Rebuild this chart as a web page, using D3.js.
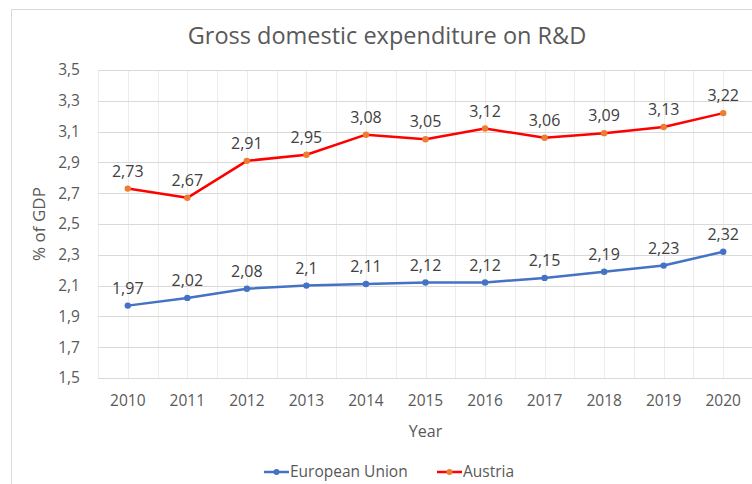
<!DOCTYPE html>
<html><head><meta charset="utf-8">
<script src="https://cdn.jsdelivr.net/npm/d3@7"></script>
<style>body{margin:0;background:#fff}svg{display:block;font-family:"Open Sans",sans-serif}</style>
</head><body>
<svg id="c" width="752" height="484"></svg>
<script>
const years = [2010,2011,2012,2013,2014,2015,2016,2017,2018,2019,2020];
const euValues = [1.97,2.02,2.08,2.10,2.11,2.12,2.12,2.15,2.19,2.23,2.32];
const atValues = [2.73,2.67,2.91,2.95,3.08,3.05,3.12,3.06,3.09,3.13,3.22];
const yTicks = [1.5,1.7,1.9,2.1,2.3,2.5,2.7,2.9,3.1,3.3,3.5];
const seriesNames = ["European Union","Austria"];

(function(){
const svg = d3.select("#c");
const fmt = v => String(+v.toFixed(2)).replace(".", ",");
const pL = 98, pR = 753, pT = 70, pB = 378;
const x = d3.scaleBand().domain(years).range([pL, pR]);
const y = d3.scaleLinear().domain([1.5, 3.5]).range([pB, pT]);
const cx = d => x(d) + x.bandwidth()/2;

// frame
svg.append("path").attr("d", `M11.5,${484}V9.5H752`).attr("fill","none").attr("stroke","#d9d9d9");

// vertical grid (every half category)
const vlines = [];
years.forEach(yr => { vlines.push(x(yr)); vlines.push(cx(yr)); });
svg.append("g").selectAll("line").data(vlines).join("line")
  .attr("x1", d => Math.round(d)+0.5).attr("x2", d => Math.round(d)+0.5)
  .attr("y1", pT).attr("y2", pB).attr("stroke", "#ececec");
// horizontal grid
svg.append("g").selectAll("line").data(yTicks).join("line")
  .attr("x1", pL).attr("x2", pR)
  .attr("y1", d => Math.round(y(d))+0.5).attr("y2", d => Math.round(y(d))+0.5)
  .attr("stroke", "#d9d9d9");

// axes
const yAxis = d3.axisLeft(y).tickValues(yTicks).tickFormat(fmt).tickSize(0).tickPadding(0);
const gy = svg.append("g").attr("transform", `translate(${80},0)`).call(yAxis);
gy.select(".domain").remove();
gy.selectAll("text").attr("font-size", 15.5).attr("fill", "#595959").attr("font-family", "Open Sans");

const xAxis = d3.axisBottom(x).tickSize(0).tickPadding(0);
const gx = svg.append("g").attr("transform", `translate(0,${395})`).call(xAxis);
gx.select(".domain").remove();
gx.selectAll("text").attr("font-size", 15.5).attr("fill", "#595959").attr("font-family", "Open Sans");

// titles
svg.append("text").attr("x", 387).attr("y", 44).attr("text-anchor", "middle")
  .attr("font-size", 23.5).attr("fill", "#595959").text("Gross domestic expenditure on R&D");
svg.append("text").attr("x", (pL+pR)/2).attr("y", 437).attr("text-anchor", "middle")
  .attr("font-size", 16).attr("fill", "#595959").text("Year");
svg.append("text").attr("transform", `translate(45,${(pT+pB)/2}) rotate(-90)`).attr("text-anchor", "middle")
  .attr("font-size", 17).attr("fill", "#595959").text("% of GDP");

const series = [
  {name: seriesNames[0], values: euValues, line: "#4472C4", marker: "#4472C4"},
  {name: seriesNames[1], values: atValues, line: "#FF0000", marker: "#ED7D31"}
];
const line = d3.line().x((d,i) => cx(years[i])).y(d => y(d));
series.forEach(s => {
  svg.append("path").attr("d", line(s.values)).attr("fill", "none")
    .attr("stroke", s.line).attr("stroke-width", 2.5).attr("stroke-linejoin", "round");
  svg.append("g").selectAll("circle").data(s.values).join("circle")
    .attr("cx", (d,i) => cx(years[i])).attr("cy", d => y(d)).attr("r", 3.2).attr("fill", s.marker);
  svg.append("g").selectAll("text").data(s.values).join("text")
    .attr("x", (d,i) => cx(years[i])).attr("y", d => y(d) - 12).attr("text-anchor", "middle")
    .attr("font-size", 16).attr("fill", "#404040").text(fmt);
});

// legend
const legX = [264, 437];
series.forEach((s, i) => {
  const g = svg.append("g").attr("transform", `translate(${legX[i]},472)`);
  g.append("line").attr("x1", 0).attr("x2", 25).attr("stroke", s.line).attr("stroke-width", 2.5);
  g.append("circle").attr("cx", 12.5).attr("r", 3).attr("fill", s.marker);
  g.append("text").attr("x", 26).attr("dy", "0.35em").attr("font-size", 15.5).attr("fill", "#595959").text(s.name);
});
})();
</script>
</body></html>
